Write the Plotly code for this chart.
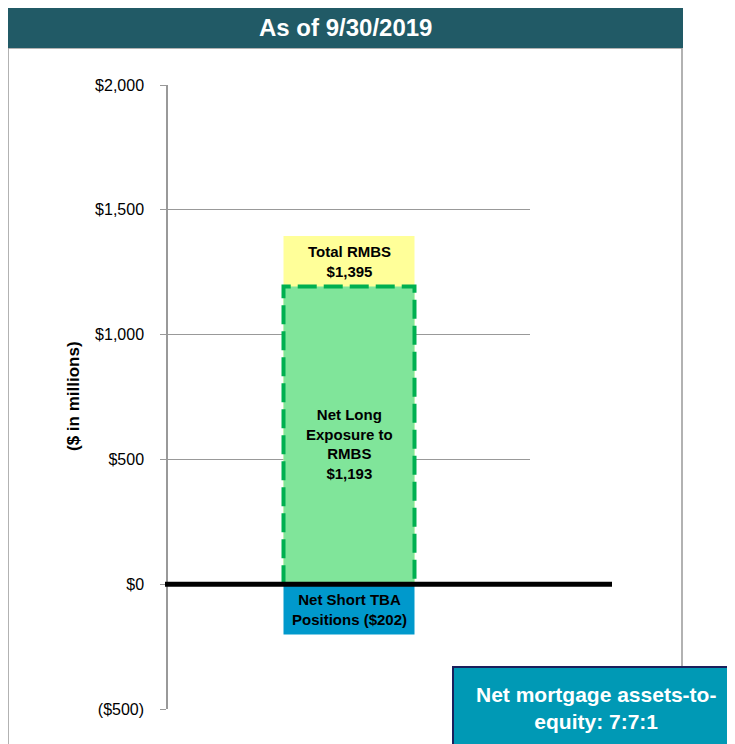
import plotly.graph_objects as go

# ---- data ----
categories = [0]
total_rmbs = [1395]
net_long = [1193]
net_short_tba = [-202]
tick_vals = [-500, 0, 500, 1000, 1500, 2000]
tick_text = ["($500)", "$0", "$500", "$1,000", "$1,500", "$2,000"]
header_text = "As of 9/30/2019"
ratio_text = "Net mortgage assets-to-<br>equity: 7:7:1"

OFF = 8  # page offset compensation (body margin)
W, H = 735 - OFF, 744 - OFF
L, T = 168 - OFF, 85 - OFF
PW, PH = 362, 624
R = W - L - PW
B = H - T - PH


def px(x):
    return (x - OFF - L) / PW


def py(y):
    return (T + PH - (y - OFF)) / PH


bw = 131 / PW

fig = go.Figure()
fig.add_bar(x=categories, y=total_rmbs, width=bw, marker=dict(color="#FFFF99", line=dict(width=0)),
            hoverinfo="skip")
fig.add_bar(x=categories, y=net_long, width=bw, marker=dict(color="#80E59A", line=dict(width=0)),
            hoverinfo="skip")
fig.add_bar(x=categories, y=net_short_tba, width=bw, marker=dict(color="#0099CC", line=dict(width=0)),
            hoverinfo="skip")

# dashed outline of net long bar (from data)
c = categories[0]
fig.add_trace(go.Scatter(
    x=[c - bw / 2, c - bw / 2, c + bw / 2, c + bw / 2],
    y=[0, net_long[0], net_long[0], 0],
    mode="lines", line=dict(color="#00B050", width=4, dash="19px,7px"),
    hoverinfo="skip", showlegend=False))

shapes = []
# chart border
shapes.append(dict(type="rect", xref="paper", yref="paper", x0=px(8), x1=px(682), y0=py(770), y1=py(48),
                   line=dict(color="#999999", width=1.5), fillcolor="rgba(0,0,0,0)", layer="below"))
# header
shapes.append(dict(type="rect", xref="paper", yref="paper", x0=px(8), x1=px(683), y0=py(48), y1=py(5),
                   line=dict(width=0), fillcolor="#215A66", layer="above"))
# zero line
shapes.append(dict(type="line", xref="paper", yref="y", x0=px(165), x1=px(612), y0=0, y1=0,
                   line=dict(color="black", width=5), layer="above"))
# ratio box
shapes.append(dict(type="rect", xref="paper", yref="paper", x0=px(453), x1=px(760), y0=py(770), y1=py(667),
                   line=dict(color="#1B1F5C", width=2), fillcolor="#0099B5", layer="above"))
fig.update_layout(shapes=shapes)

lab_font = dict(family="Liberation Sans, Arial, sans-serif", size=15, color="black")
ctr = dict(xanchor="center", yanchor="middle", showarrow=False)
annotations = [
    dict(x=c, y=(total_rmbs[0] + net_long[0]) / 2, xref="x", yref="y", text="<b>Total RMBS<br>$1,395</b>",
         font=lab_font, **ctr),
    dict(x=c, y=net_long[0] * 0.47, xref="x", yref="y", text="<b>Net Long<br>Exposure to<br>RMBS<br>$1,193</b>",
         font=lab_font, **ctr),
    dict(x=c, y=net_short_tba[0] / 2, xref="x", yref="y", text="<b>Net Short TBA<br>Positions ($202)</b>",
         font=lab_font, **ctr),
    dict(x=px(345), y=py(27), xref="paper", yref="paper", text="<b>" + header_text + "</b>",
         font=dict(family="Liberation Sans Narrow, Arial Narrow, Liberation Sans, sans-serif", size=24, color="white"),
         **ctr),
    dict(x=px(596), y=py(708), xref="paper", yref="paper", text="<b>" + ratio_text + "</b>",
         font=dict(family="Liberation Sans, Arial, sans-serif", size=21, color="white"), **ctr),
    dict(x=px(73), y=py(396), xref="paper", yref="paper", text="<b>($ in millions)</b>",
         textangle=-90, font=dict(family="Liberation Sans Narrow, Arial Narrow, Liberation Sans, sans-serif", size=17,
                                  color="black"), **ctr),
]
fig.update_layout(annotations=annotations)

fig.update_layout(
    width=W, height=H,
    margin=dict(l=L, r=R, t=T, b=B),
    paper_bgcolor="white", plot_bgcolor="white",
    barmode="overlay", showlegend=False,
    xaxis=dict(range=[-0.5, 0.5], showticklabels=False, showgrid=False, zeroline=False, showline=False, ticks=""),
    yaxis=dict(range=[-500, 2000], tickvals=tick_vals, ticktext=tick_text, showgrid=True, gridcolor="#999999",
               gridwidth=1, zeroline=False, showline=True, linecolor="#999999", linewidth=1.5,
               ticks="outside", ticklen=6, tickcolor="#999999", ticklabelstandoff=13,
               tickfont=dict(family="Liberation Sans, Arial, sans-serif", size=16, color="black")),
)

fig.write_html("out.html")
